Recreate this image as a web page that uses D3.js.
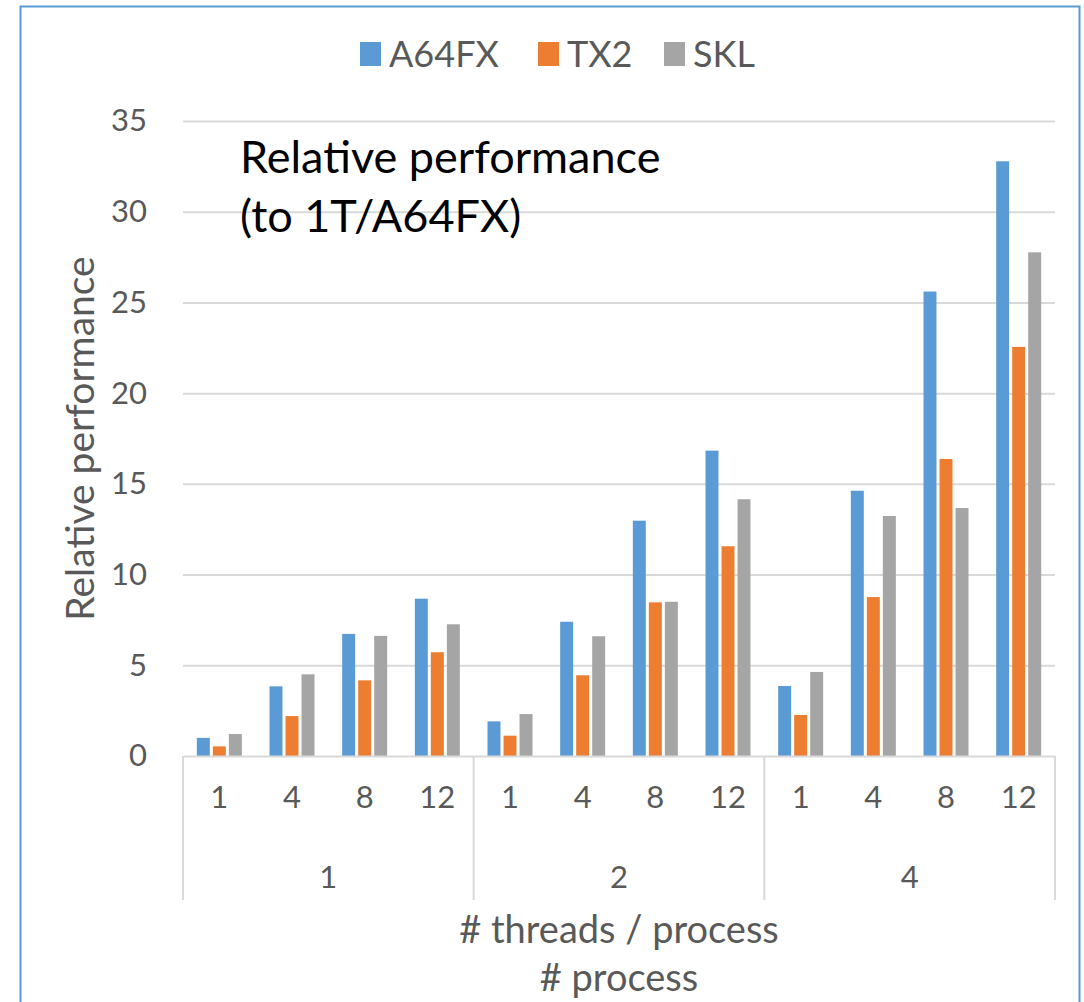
<!DOCTYPE html>
<html>
<head>
<meta charset="utf-8">
<script src="https://cdn.jsdelivr.net/npm/d3@7"></script>
<style>
    body { margin: 0; background: #fff; }
    #chart text { font-family: Lato, "Noto Sans", sans-serif; }
</style>
</head>
<body>
<div id="chart"></div>
<script>
// values
const processes = ['1', '2', '4'];
const threads = ['1', '4', '8', '12'];
const seriesNames = ['A64FX', 'TX2', 'SKL'];
const seriesColors = ['#5B9BD5', '#ED7D31', '#A5A5A5'];
const a64fx = [1.0, 3.84, 6.73, 8.67, 1.91, 7.4, 12.97, 16.83, 3.86, 14.62, 25.6, 32.78];
const tx2 = [0.53, 2.2, 4.17, 5.72, 1.12, 4.45, 8.47, 11.56, 2.26, 8.76, 16.37, 22.55];
const skl = [1.21, 4.5, 6.62, 7.26, 2.31, 6.6, 8.5, 14.15, 4.63, 13.23, 13.67, 27.76];
const yTicks = [0, 5, 10, 15, 20, 25, 30, 35];

const W = 1084, H = 1002;
const margin = { top: 121, right: 29, bottom: 246, left: 183 };
const width = W - margin.left - margin.right;
const height = H - margin.top - margin.bottom;

const values = [a64fx, tx2, skl];
const categories = [];
processes.forEach(p => threads.forEach(t => categories.push({ key: p + '|' + t, p: p, t: t })));
const rows = categories.map((c, i) => ({ key: c.key, p: c.p, t: c.t, vals: values.map(v => v[i]) }));

const svg = d3.select('#chart')
    .append('svg')
    .attr('width', W)
    .attr('height', H);

// outer chart border
svg.append('rect')
    .attr('x', 20.5)
    .attr('y', 6.5)
    .attr('width', 1059)
    .attr('height', 1010)
    .attr('fill', 'none')
    .attr('stroke', '#5B9BD5')
    .attr('stroke-width', 2);

const g = svg.append('g')
    .attr('transform', `translate(${margin.left},${margin.top})`);

const x0 = d3.scaleBand()
    .domain(categories.map(c => c.key))
    .range([0, width])
    .padding(0);

const groupW = 45;
const x1 = d3.scaleBand()
    .domain(seriesNames)
    .range([(x0.bandwidth() - groupW) / 2, (x0.bandwidth() + groupW) / 2])
    .paddingInner(0.19)
    .paddingOuter(0);

const xP = d3.scaleBand()
    .domain(processes)
    .range([0, width]);

const y = d3.scaleLinear()
    .domain([0, 35])
    .range([height, 0]);

// y axis with gridlines
const yAxis = g.append('g')
    .call(d3.axisLeft(y).tickValues(yTicks).tickSize(-width).tickPadding(36));
yAxis.select('.domain').remove();
yAxis.selectAll('line')
    .attr('stroke', '#D9D9D9')
    .attr('stroke-width', 2);
yAxis.selectAll('text')
    .attr('fill', '#595959')
    .style('font-size', '31px');
yAxis.selectAll('.tick').filter(d => d === 0).select('line').remove();

// bars
const cat = g.selectAll('.cat')
    .data(rows)
    .enter()
    .append('g')
    .attr('class', 'cat')
    .attr('transform', d => `translate(${x0(d.key)},0)`);

cat.selectAll('rect')
    .data(d => d.vals.map((v, i) => ({ name: seriesNames[i], value: v, color: seriesColors[i] })))
    .enter()
    .append('rect')
    .attr('x', d => x1(d.name))
    .attr('y', d => y(d.value))
    .attr('width', x1.bandwidth())
    .attr('height', d => height - y(d.value))
    .attr('fill', d => d.color);

// category axis (inner level: threads)
const xAxis = g.append('g')
    .attr('transform', `translate(0,${height})`)
    .call(d3.axisBottom(x0).tickSize(0).tickPadding(30).tickFormat(k => k.split('|')[1]));
xAxis.select('.domain')
    .attr('stroke', '#D9D9D9')
    .attr('stroke-width', 2);
xAxis.selectAll('text')
    .attr('fill', '#595959')
    .style('font-size', '31px');

// group separators (outer level: processes)
const seps = processes.map(p => xP(p)).concat([width]);
g.selectAll('.sep')
    .data(seps)
    .enter()
    .append('line')
    .attr('class', 'sep')
    .attr('x1', d => d)
    .attr('x2', d => d)
    .attr('y1', height)
    .attr('y2', height + 144)
    .attr('stroke', '#D9D9D9')
    .attr('stroke-width', 2);

g.selectAll('.plabel')
    .data(processes)
    .enter()
    .append('text')
    .attr('class', 'plabel')
    .attr('x', d => xP(d) + xP.bandwidth() / 2)
    .attr('y', height + 132)
    .attr('text-anchor', 'middle')
    .attr('fill', '#595959')
    .style('font-size', '31px')
    .text(d => d);

// axis titles
g.append('text')
    .attr('x', width / 2)
    .attr('y', height + 187)
    .attr('text-anchor', 'middle')
    .attr('fill', '#595959')
    .style('font-size', '38px')
    .text('# threads / process');

g.append('text')
    .attr('x', width / 2)
    .attr('y', height + 235)
    .attr('text-anchor', 'middle')
    .attr('fill', '#595959')
    .style('font-size', '38px')
    .text('# process');

g.append('text')
    .attr('transform', 'rotate(-90)')
    .attr('x', -height / 2)
    .attr('y', -89)
    .attr('text-anchor', 'middle')
    .attr('fill', '#595959')
    .style('font-size', '39px')
    .text('Relative performance');

// annotation inside plot
const note = g.append('text')
    .attr('fill', '#000')
    .style('font-size', '45px');
note.append('tspan').attr('x', 57).attr('y', 52).text('Relative performance');
note.append('tspan').attr('x', 57).attr('y', 111).text('(to 1T/A64FX)');

// legend
const legend = svg.append('g')
    .attr('class', 'legend');
const legendX = [360, 538, 664];
seriesNames.forEach((name, i) => {
    legend.append('rect')
        .attr('x', legendX[i])
        .attr('y', 42)
        .attr('width', 21)
        .attr('height', 24)
        .attr('fill', seriesColors[i]);
    legend.append('text')
        .attr('x', legendX[i] + 29)
        .attr('y', 67)
        .attr('fill', '#595959')
        .style('font-size', '36px')
        .text(name);
});
</script>
</body>
</html>
